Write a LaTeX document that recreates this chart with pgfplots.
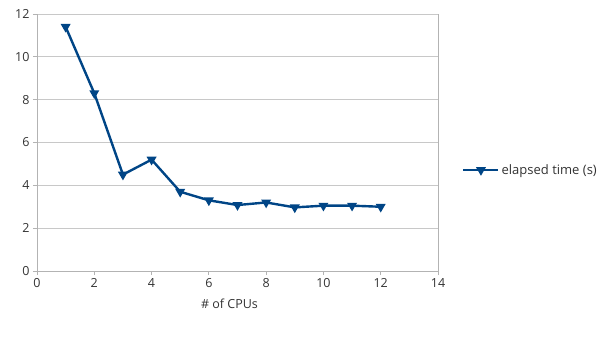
\documentclass[border=0pt]{standalone}
\usepackage{fontspec}
\setmainfont{Open Sans}
\usepackage{pgfplots}
\pgfplotsset{compat=1.18}
\definecolor{series}{HTML}{004586}
\definecolor{gridc}{HTML}{C8C8C8}
\definecolor{axc}{HTML}{B3B3B3}
\definecolor{txt}{HTML}{333333}
\begin{document}
\begin{tikzpicture}
\useasboundingbox (-37pt,-69pt) rectangle (568pt,271pt);
\begin{axis}[
  at={(0pt,0pt)}, anchor=south west,
  scale only axis, width=401pt, height=257pt,
  xmin=0, xmax=14, ymin=0, ymax=12,
  xtick={0,2,...,14}, ytick={0,2,...,12},
  ymajorgrids, grid style={gridc, line width=0.8pt},
  axis line style={axc, line width=0.8pt},
  axis x line*=bottom, axis y line*=left,
  tick style={axc, line width=0.8pt},
  tick align=outside, major tick length=4pt,
  ticklabel style={font=\fontsize{12.5}{14}\selectfont, text=txt},
  /pgf/number format/assume math mode=true,
  xlabel={\# of CPUs},
  xlabel style={font=\fontsize{12.5}{14}\selectfont, text=txt, at={(axis description cs:0.48,0)}, anchor=north, yshift=-24pt},
  legend style={at={(1.06,0.393)}, anchor=west, draw=none, fill=none,
    font=\fontsize{13}{15}\selectfont, text=txt, inner xsep=0pt},
  legend cell align=left,
  legend image code/.code={\draw[mark repeat=2, mark phase=2] plot coordinates {(0pt,0pt) (17.5pt,0pt) (35pt,0pt)};},
  clip=false,
]
\draw[axc, line width=0.8pt] (axis cs:14,0) -- (axis cs:14,12);
\addplot[series, line width=2.4pt, mark=triangle*, mark options={rotate=180, scale=1.7, solid}]
  coordinates {(1,11.4) (2,8.3) (3,4.5) (4,5.2) (5,3.7) (6,3.3) (7,3.08) (8,3.2) (9,2.97) (10,3.05) (11,3.05) (12,3.0)};
\addlegendentry{elapsed time (s)}
\end{axis}
\end{tikzpicture}
\end{document}
